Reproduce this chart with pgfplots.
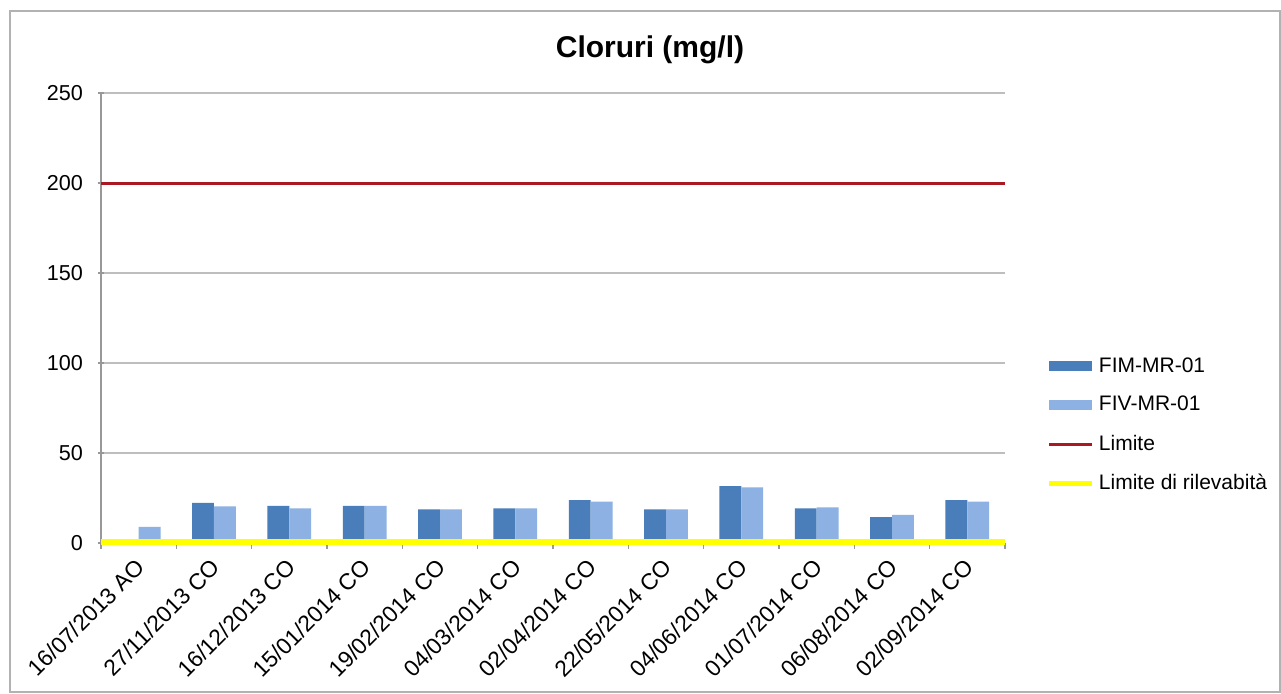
\documentclass[border=0pt]{standalone}
\usepackage{fontspec}
\setmainfont{Liberation Sans}
\usepackage{pgfplots}
\pgfplotsset{compat=1.18}

\definecolor{fim}{RGB}{74,126,187}
\definecolor{fiv}{RGB}{141,177,226}
\definecolor{limred}{RGB}{170,25,35}
\definecolor{limyel}{RGB}{255,255,0}
\definecolor{gridgray}{RGB}{190,190,190}

\begin{document}
\begin{tikzpicture}
\useasboundingbox (-50.5pt,-75pt) rectangle (590pt,271.5pt);
\fill[white] (-50.5pt,-75pt) rectangle (590pt,271.5pt);
\draw[gray!60, line width=1pt] (-45.5pt,-74.5pt) rectangle (589.5pt,266pt);
\node[font=\fontsize{15}{18}\selectfont\bfseries] at (274.5pt,246.75pt) {Cloruri (mg/l)};
\begin{axis}[
  at={(0pt,0pt)}, anchor=south west,
  scale only axis, width=452pt, height=225pt,
  xmin=0.5, xmax=12.5, ymin=0, ymax=250,
  ytick={0,50,...,250},
  xtick={1,...,12},
  xticklabels={16/07/2013 AO,27/11/2013 CO,16/12/2013 CO,15/01/2014 CO,19/02/2014 CO,04/03/2014 CO,02/04/2014 CO,22/05/2014 CO,04/06/2014 CO,01/07/2014 CO,06/08/2014 CO,02/09/2014 CO},
  minor xtick={0.5,1.5,...,12.5},
  major x tick style={draw=none},
  minor tick length=3pt, major tick length=3pt,
  tick align=outside,
  xtick pos=bottom, ytick pos=left,
  tick style={gridgray!80!black, line width=0.6pt},
  ymajorgrids, grid style={gridgray, line width=0.8pt},
  axis x line=bottom, axis y line=left,
  axis line style={gridgray!80!black, -, line width=0.8pt},
  /pgf/number format/assume math mode=true,
  ticklabel style={font=\fontsize{10.8}{12}\selectfont},
  yticklabel style={xshift=-4pt},
  xticklabel style={font=\fontsize{11.4}{13}\selectfont, rotate=45, anchor=north east, xshift=-1pt, yshift=2pt},
  ybar=0pt, bar width=0.29,
  clip=false,
  legend cell align=left,
  legend style={draw=none, fill=none, at={(1.046,0.262)}, anchor=west,
    font=\fontsize{10.5}{12}\selectfont, row sep=6.5pt, inner sep=0pt},
]
\addplot[fill=fim, draw=none,
  legend image code/.code={\fill[fim] (0pt,-2.5pt) rectangle (21.5pt,2.5pt);}]
  coordinates {(2,22.3) (3,20.6) (4,20.6) (5,18.7) (6,19.3) (7,23.8) (8,18.7) (9,31.6) (10,19.3) (11,14.4) (12,23.8)};
\addlegendentry{FIM-MR-01}
\addplot[fill=fiv, draw=none,
  legend image code/.code={\fill[fiv] (0pt,-2.5pt) rectangle (21.5pt,2.5pt);}]
  coordinates {(1,9.0) (2,20.4) (3,19.3) (4,20.6) (5,18.7) (6,19.3) (7,23.0) (8,18.7) (9,30.9) (10,19.8) (11,15.6) (12,23.0)};
\addlegendentry{FIV-MR-01}
\addplot[sharp plot, limred, line width=1.5pt, forget plot] coordinates {(0.5,200) (12.5,200)};
\addlegendimage{legend image code/.code={\draw[limred, line width=1.5pt] (0pt,0pt) -- (21.5pt,0pt);}}
\addlegendentry{Limite}
\addplot[sharp plot, limyel, line width=3pt, forget plot] coordinates {(0.5,0.8) (12.5,0.8)};
\addlegendimage{legend image code/.code={\draw[limyel, line width=2.5pt] (0pt,0pt) -- (21.5pt,0pt);}}
\addlegendentry{Limite di rilevabità}
\end{axis}
\end{tikzpicture}
\end{document}
